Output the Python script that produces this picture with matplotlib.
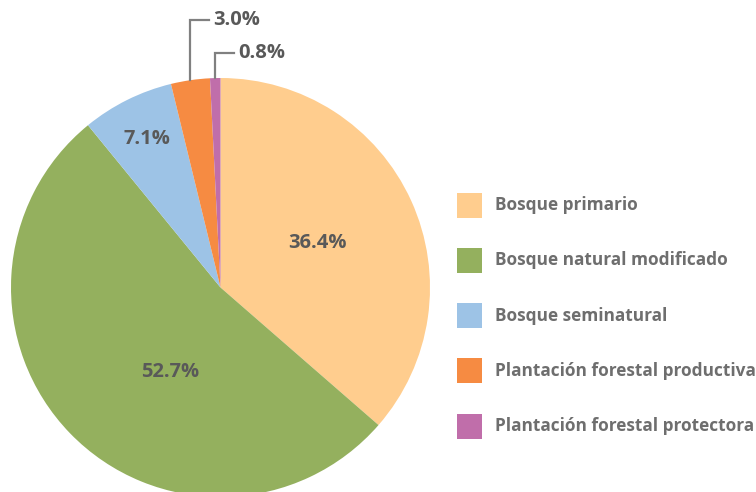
import numpy as np
import matplotlib
matplotlib.use('Agg')
import matplotlib.pyplot as plt
from matplotlib.patches import Rectangle

plt.rcParams['font.family'] = ['Open Sans', 'DejaVu Sans']

categories = ['Bosque primario', 'Bosque natural modificado', 'Bosque seminatural',
              'Plantación forestal productiva', 'Plantación forestal protectora']
values = [36.4, 52.7, 7.1, 3.0, 0.8]
colors = ['#FFCD8E', '#94B05E', '#9DC3E6', '#F68B42', '#C06EAA']

W, H = 756, 492
fig = plt.figure(figsize=(W / 100, H / 100), dpi=100)
ax = fig.add_axes([0, 0, 1, 1])

cx, cy, r = 220.5, H - 287.5, 209.5
wedges, _ = ax.pie(values, colors=colors, startangle=90, counterclock=False,
                   center=(cx, cy), radius=r, frame=True)
ax.set_xlim(0, W)
ax.set_ylim(0, H)
ax.set_aspect('equal')
ax.axis('off')

lab_col = '#595959'
fs = 14.5
# inside labels: (radial fraction, angle offset) per slice
inside = {0: (0.51, 0), 1: (0.47, 15), 2: (0.79, 0)}
for i, w in enumerate(wedges):
    mid = np.deg2rad((w.theta1 + w.theta2) / 2)
    txt = '{:.1f}%'.format(values[i])
    if i in inside:
        f, off = inside[i]
        a = mid + np.deg2rad(off)
        ax.text(cx + f * r * np.cos(a), cy + f * r * np.sin(a), txt,
                ha='center', va='center', fontsize=fs, fontweight='bold', color=lab_col)
    else:
        x0 = cx + r * np.cos(mid)
        y0 = cy + r * np.sin(mid)
        ytop = H - (20 if i == 3 else 53)
        xend = x0 + 19
        ax.plot([x0, x0, xend], [y0, ytop, ytop], color='#808080', lw=1.6,
                solid_joinstyle='miter', zorder=3)
        ax.text(xend + 4, ytop, txt, ha='left', va='center', fontsize=fs,
                fontweight='bold', color=lab_col)

# legend drawn by hand: 25px squares, 55px row spacing
sq, x_sq, y_first, step = 25, 457, 205, 55.3
for k, (name, c) in enumerate(zip(categories, colors)):
    yc = H - (y_first + k * step)
    ax.add_patch(Rectangle((x_sq, yc - sq / 2), sq, sq, facecolor=c, edgecolor='none'))
    ax.text(495, yc, name, ha='left', va='center', fontsize=12.4,
            fontweight='bold', color='#6E6E6E')

fig.savefig('out.png', dpi=100)
